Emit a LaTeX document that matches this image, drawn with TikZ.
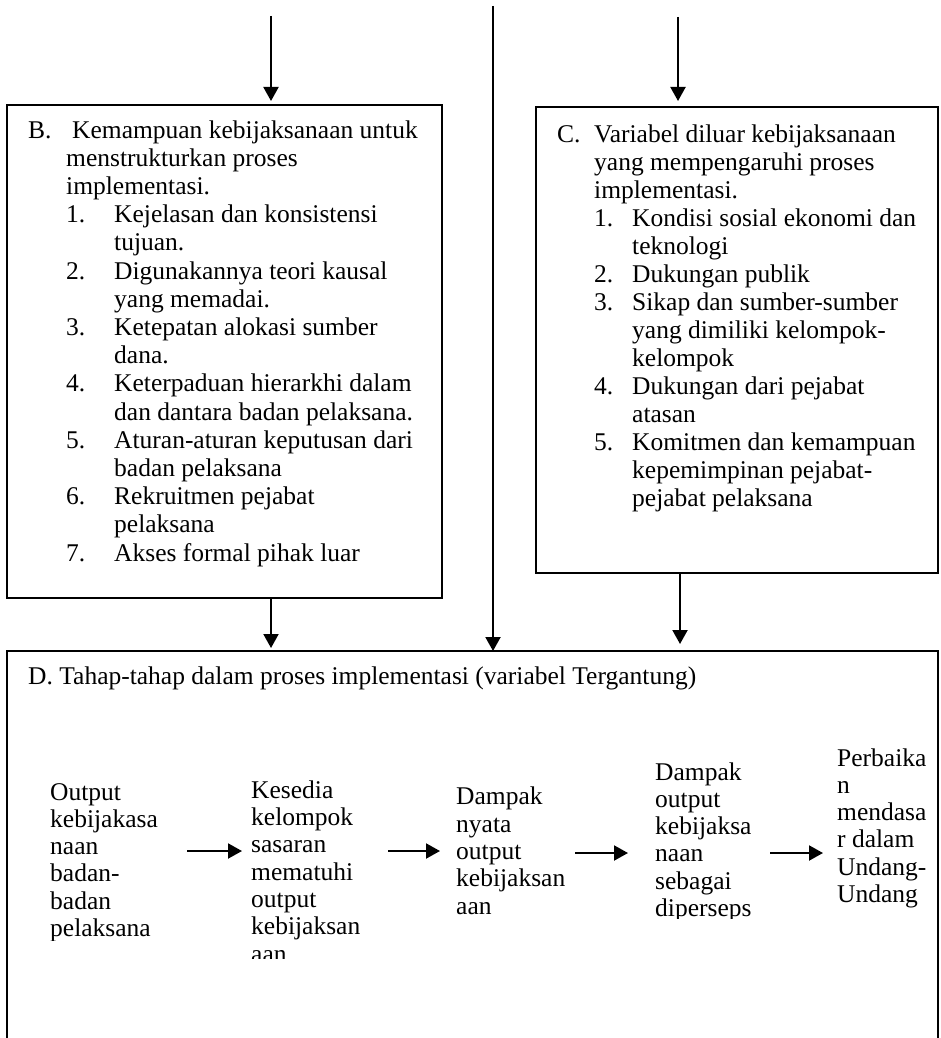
\documentclass[tikz,border=0pt]{standalone}
\usepackage{fontspec}
\setmainfont{Liberation Serif}
\usetikzlibrary{arrows.meta,calc}
\tikzset{
  panel/.style={draw, line width=2pt, inner sep=0pt, outer sep=0pt, anchor=north west},
  txt/.style={anchor=base west, inner sep=0pt, align=left,
    font=\fontsize{25.5}{28.2}\selectfont},
  stage/.style={anchor=base west, inner sep=0pt, align=left,
    font=\fontsize{25.5}{27.3}\selectfont},
  arr/.style={-{Triangle[length=14pt,width=15pt]}, line width=2pt},
}

\begin{document}
\begin{tikzpicture}[x=1pt, y=-1pt]
  \useasboundingbox (0,0) rectangle (940,1038);
  \clip (0,0) rectangle (940,1038);
  % boxes
  \node[panel, minimum width=435pt, minimum height=493pt] (boxB) at (7,105) {};
  \node[panel, minimum width=402pt, minimum height=466pt] (boxC) at (536,107) {};
  \node[panel, minimum width=931pt, minimum height=430pt] (boxD) at (7,651) {};
  \coordinate (inB) at (271,16);
  \coordinate (inM) at (493,6);
  \coordinate (inC) at (678,17);
  % B (base = last line)
  \node[txt] (textB) at (28,561) {\makebox[44pt][l]{B.}Kemampuan kebijaksanaan untuk\\
    \hspace*{38pt}menstrukturkan proses\\
    \hspace*{38pt}implementasi.\\
    \hspace*{38pt}\makebox[48pt][l]{1.}Kejelasan dan konsistensi\\
    \hspace*{86pt}tujuan.\\
    \hspace*{38pt}\makebox[48pt][l]{2.}Digunakannya teori kausal\\
    \hspace*{86pt}yang memadai.\\
    \hspace*{38pt}\makebox[48pt][l]{3.}Ketepatan alokasi sumber\\
    \hspace*{86pt}dana.\\
    \hspace*{38pt}\makebox[48pt][l]{4.}Keterpaduan hierarkhi dalam\\
    \hspace*{86pt}dan dantara badan pelaksana.\\
    \hspace*{38pt}\makebox[48pt][l]{5.}Aturan-aturan keputusan dari\\
    \hspace*{86pt}badan pelaksana\\
    \hspace*{38pt}\makebox[48pt][l]{6.}Rekruitmen pejabat\\
    \hspace*{86pt}pelaksana\\
    \hspace*{38pt}\makebox[48pt][l]{7.}Akses formal pihak luar};
  % C
  \node[txt, font=\fontsize{25.5}{28}\selectfont] (textC) at (557,506) {\makebox[37pt][l]{C.}Variabel diluar kebijaksanaan\\
    \hspace*{37pt}yang mempengaruhi proses\\
    \hspace*{37pt}implementasi.\\
    \hspace*{37pt}\makebox[38pt][l]{1.}Kondisi sosial ekonomi dan\\
    \hspace*{75pt}teknologi\\
    \hspace*{37pt}\makebox[38pt][l]{2.}Dukungan publik\\
    \hspace*{37pt}\makebox[38pt][l]{3.}Sikap dan sumber-sumber\\
    \hspace*{75pt}yang dimiliki kelompok-\\
    \hspace*{75pt}kelompok\\
    \hspace*{37pt}\makebox[38pt][l]{4.}Dukungan dari pejabat\\
    \hspace*{75pt}atasan\\
    \hspace*{37pt}\makebox[38pt][l]{5.}Komitmen dan kemampuan\\
    \hspace*{75pt}kepemimpinan pejabat-\\
    \hspace*{75pt}pejabat pelaksana};
  % D
  \node[txt] (titleD) at (28,684) {D. Tahap-tahap dalam proses implementasi (variabel Tergantung)};
  \begin{scope}
    \clip (40,740) rectangle (200,940);
    \node[stage] (output) at (50,936.5) {Output\\kebijakasa\\naan\\badan-\\badan\\pelaksana};
  \end{scope}
  \begin{scope}
    \clip (245,740) rectangle (400,958);
    \node[stage] (comply) at (251,962) {Kesedia\\kelompok\\sasaran\\mematuhi\\output\\kebijaksan\\aan};
  \end{scope}
  \node[stage] (impact) at (456,914) {Dampak\\nyata\\output\\kebijaksan\\aan};
  \begin{scope}
    \clip (650,740) rectangle (800,918);
    \node[stage] (percv) at (655,916.5) {Dampak\\output\\kebijaksa\\naan\\sebagai\\diperseps};
  \end{scope}
  \node[stage] (revise) at (837,902.5) {Perbaika\\n\\mendasa\\r dalam\\Undang-\\Undang};
  \coordinate (a1) at (187,851);
  \coordinate (b1) at (242,851);
  \coordinate (a2) at (388,851);
  \coordinate (b2) at (440,851);
  \coordinate (a3) at (575,853);
  \coordinate (b3) at (628,853);
  \coordinate (a4) at (770,853);
  \coordinate (b4) at (823,853);
  % arrows
  \draw[arr, shorten >=4pt] (inB) -- (inB |- boxB.north);
  \draw[arr, shorten >=6pt] (inC) -- (inC |- boxC.north);
  \draw[arr] (inM) -- (inM |- boxD.north);
  \draw[arr, shorten >=3pt] (inB |- boxB.south) -- (inB |- boxD.north);
  \draw[arr, shorten >=7pt] ([xshift=2pt]inC |- boxC.south) -- ([xshift=2pt]inC |- boxD.north);
  \draw[arr] (a1) -- (b1);
  \draw[arr] (a2) -- (b2);
  \draw[arr] (a3) -- (b3);
  \draw[arr] (a4) -- (b4);
\end{tikzpicture}
\end{document}
